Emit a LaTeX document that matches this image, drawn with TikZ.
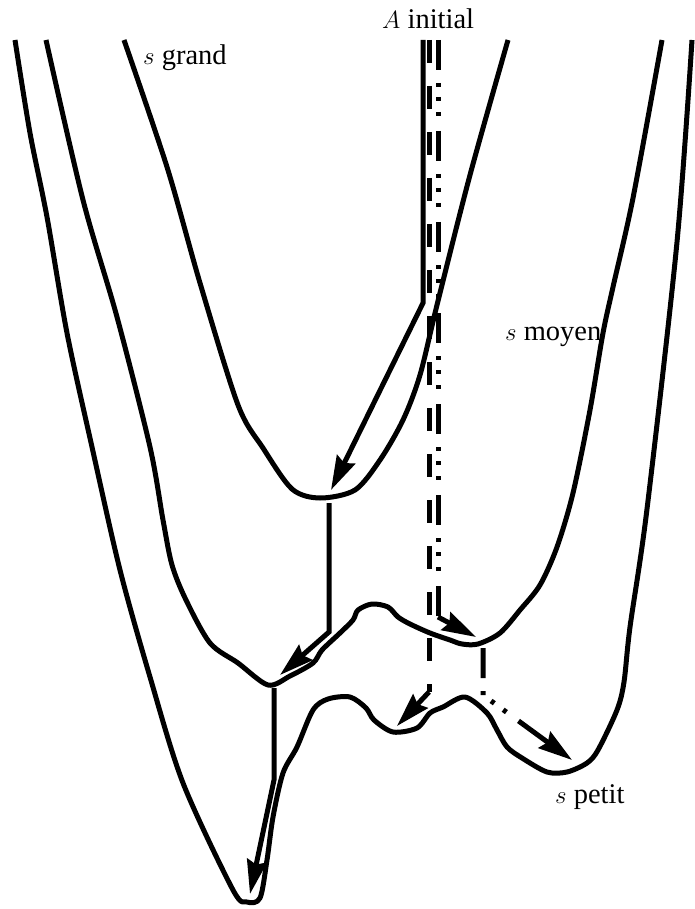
\documentclass[tikz,border=0pt]{standalone}
\usepackage{fontspec}
\setmainfont{Liberation Serif}
\usetikzlibrary{arrows.meta,calc}
\begin{document}
\begin{tikzpicture}[x=1pt,y=-1pt,
  curve/.style={line width=5pt, line join=round, line cap=butt},
  track/.style={line width=5pt, line join=miter},
  tip/.style={-{Stealth[length=34pt,width=20pt,inset=4pt]}},
  dashtrack/.style={track, dash pattern=on 23pt off 23pt},
  dotstrack/.style={track, dash pattern=on 30pt off 13pt on 4pt off 10pt on 4pt off 11pt on 4pt off 15pt},
  lbl/.style={font=\fontsize{28.5}{33}\selectfont, inner sep=0pt}]
\useasboundingbox (0,0) rectangle (695,909);

% level curves
\draw[curve] plot[smooth, tension=0.5] coordinates {
  (124,40) (167,167) (200,283) (238,405) (263,448) (292,489) (320,498)
  (355,490) (380,460) (403,420) (420,375) (437,305) (470,175) (508,40)};
\draw[curve] plot[smooth, tension=0.5] coordinates {
  (46,40) (83,200) (117,317) (150,447) (163,520) (172,565) (186,600)
  (210,643) (238,663) (268,685) (290,676) (313,663) (322,650) (340,633)
  (353,620) (358,610) (372,604) (388,607) (398,617) (410,624) (430,633)
  (450,640) (462,644) (478,644) (500,633) (520,610) (540,585) (557,547)
  (573,493) (590,410) (603,333) (613,287) (633,198) (662,40)};
\draw[curve] plot[smooth, tension=0.5] coordinates {
  (15,40) (30,133) (47,217) (67,333) (92,447) (120,570) (150,677)
  (183,783) (233,890) (247,902) (260,898) (267,860) (273,817) (283,773)
  (297,747) (313,710) (328,699) (350,697) (366,708) (374,720) (393,732)
  (417,728) (430,713) (443,707) (465,697) (487,713) (497,730) (507,747)
  (522,758) (547,772) (567,772) (587,763) (598,750) (617,710) (624,682)
  (630,627) (647,509) (677,242) (692,40)};

% solid path
\coordinate (s0) at (423,40);
\coordinate (s1) at (423,303);
\coordinate (s2) at (331,490);
\coordinate (s3) at (329,503);
\coordinate (s4) at (329,632);
\coordinate (s5) at (280,675);
\coordinate (s6) at (274,688);
\coordinate (s7) at (274,780);
\coordinate (s8) at (250,894);
\draw[track, tip] (s0) -- (s1) -- (s2);
\draw[track, tip] (s3) -- (s4) -- (s5);
\draw[track, tip] (s6) -- (s7) -- (s8);

% dashed path
\coordinate (d0) at (429,40);
\coordinate (d1) at (429,692);
\coordinate (d2) at (397,726);
\draw[dashtrack] (d0) -- (d1);
\draw[track, tip] (d1) -- (d2);

% dash-dot path
\coordinate (p0) at (438,40);
\coordinate (p1) at (438,617);
\coordinate (p2) at (476,637);
\coordinate (p3) at (483,648);
\coordinate (p4) at (483,695);
\coordinate (p5) at (572,760);
\coordinate (p45) at ($(p4)!0.4!(p5)$);
\draw[dotstrack] (p3) -- (p4) -- (p45);
\draw[track, tip] (p45) -- (p5);
\draw[dotstrack] (p0) -- (p1);
\draw[track, tip] (p1) -- (p2);

% labels
\node[lbl, anchor=base west] (ainit) at (382,29) {$A$ initial};
\node[lbl, anchor=base west] (sgrand) at (143,65) {$s$ grand};
\node[lbl, anchor=base west] (smoyen) at (505,340) {$s$ moyen};
\node[lbl, anchor=base west] (spetit) at (555,803) {$s$ petit};
\end{tikzpicture}
\end{document}
